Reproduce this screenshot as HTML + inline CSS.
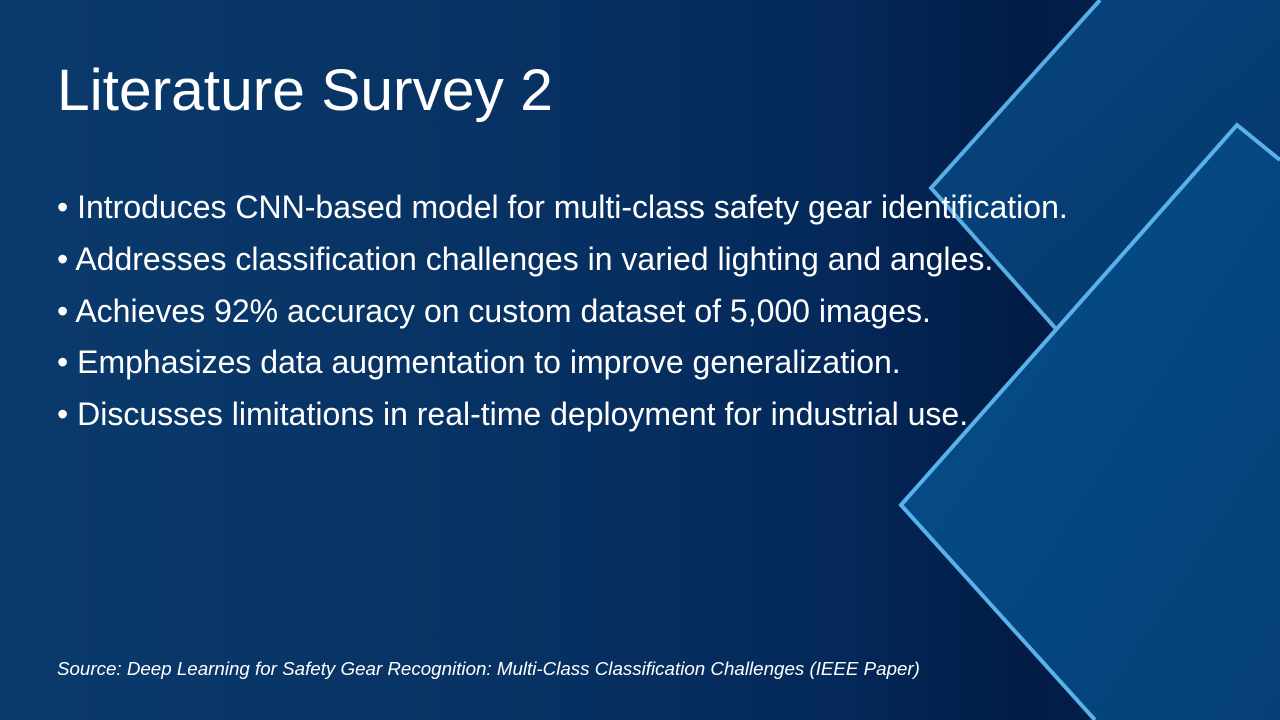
<!DOCTYPE html>
<html><head><meta charset="utf-8"><style>
html,body{margin:0;padding:0}
body{width:1280px;height:720px;overflow:hidden;position:relative;
background:linear-gradient(90deg,#0a3a6c 0%,#073263 40%,#04295a 65%,#021c46 80%,#032453 100%);
font-family:"Liberation Sans",sans-serif;color:#fff}
svg{position:absolute;left:0;top:0}
h1{position:absolute;left:57px;top:56px;margin:0;font-weight:normal;font-size:58.7px;line-height:70px}
ul{position:absolute;left:57px;top:186px;margin:0;padding:0;list-style:none;font-size:32px}
li{height:51.8px;line-height:42px;white-space:nowrap}
.src{position:absolute;left:57px;top:658px;font-size:18.75px;font-style:italic}
</style></head><body>
<svg width="1280" height="720" viewBox="0 0 1280 720">
<defs>
<linearGradient id="g1" x1="0" y1="0" x2="1" y2="1"><stop offset="0" stop-color="#07467f"/><stop offset="1" stop-color="#04366a"/></linearGradient>
<linearGradient id="g2" x1="0" y1="0" x2="1" y2="1"><stop offset="0" stop-color="#05508c"/><stop offset="1" stop-color="#053f78"/></linearGradient>
</defs>
<polygon points="1100,0 1280,0 1280,160 1057,330 931,188" fill="url(#g1)"/>
<polyline points="1100,0 931,188 1057,330" fill="none" stroke="#5aaee6" stroke-width="4"/>
<polygon points="1237,125 1280,160 1280,720 1095,720 901,505" fill="url(#g2)"/>
<polyline points="1280,160 1237,125 901,505 1095,720" fill="none" stroke="#5ab2ea" stroke-width="4"/>
</svg>
<h1>Literature Survey 2</h1>
<ul>
<li>• Introduces CNN-based model for multi-class safety gear identification.</li>
<li>• Addresses classification challenges in varied lighting and angles.</li>
<li>• Achieves 92% accuracy on custom dataset of 5,000 images.</li>
<li>• Emphasizes data augmentation to improve generalization.</li>
<li>• Discusses limitations in real-time deployment for industrial use.</li>
</ul>
<div class="src">Source: Deep Learning for Safety Gear Recognition: Multi-Class Classification Challenges (IEEE Paper)</div>
</body></html>
